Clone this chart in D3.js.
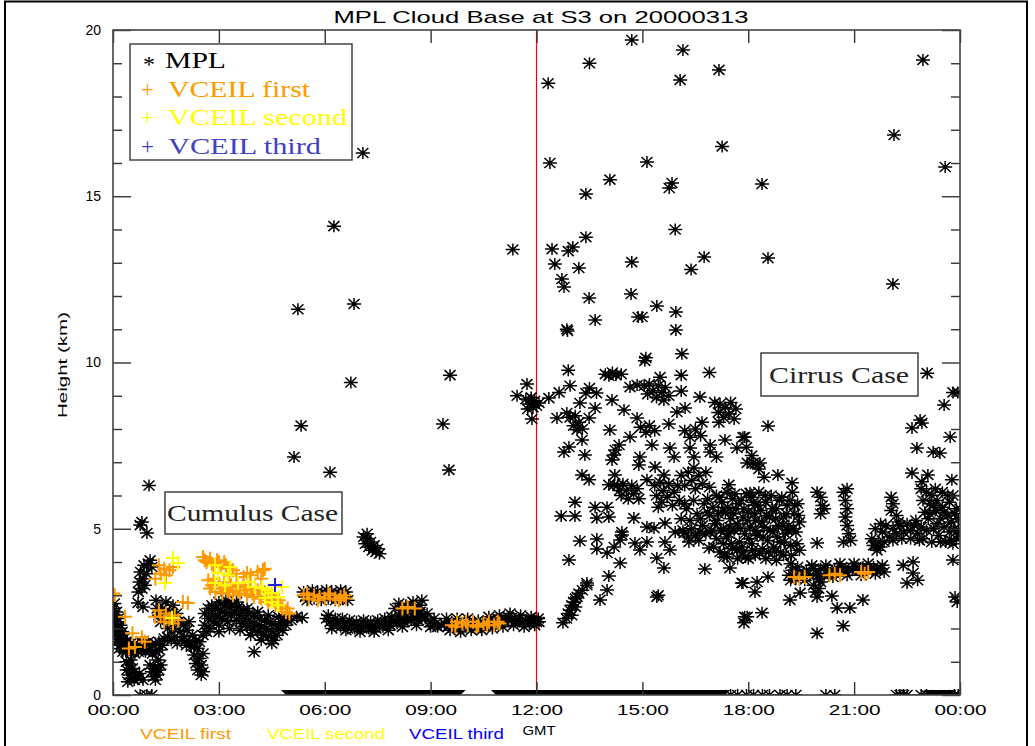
<!DOCTYPE html>
<html><head><meta charset="utf-8">
<script src="https://cdn.jsdelivr.net/npm/d3@7"></script>
<style>body{margin:0;background:#fff;} svg{display:block}</style>
</head><body><svg id="c" width="1035" height="746"></svg>
<script>
// ---------------- data ----------------
const title = "MPL Cloud Base at S3 on 20000313";
const xTickHours = [0,3,6,9,12,15,18,21,24];
const xTickLabels = ["00:00","03:00","06:00","09:00","12:00","15:00","18:00","21:00","00:00"];
const yMajorTicks = [0,5,10,15,20];
const yMinorTicks = [1,2,3,4,6,7,8,9,11,12,13,14,16,17,18,19];
const dividerHour = 12;
const seriesNames = ["MPL","VCEIL first","VCEIL second","VCEIL third"];
const seriesSymbols = ["*","+","+","+"];
const seriesColors = ["#000000","#ff9900","#ffff00","#4040c8"];
const bottomLabels = ["VCEIL first","VCEIL second","VCEIL third"];
const bottomColors = ["#ff9900","#ffff00","#0000ff"];
const caseLabels = ["Cumulus Case","Cirrus Case"];

// MPL cloud base [hour, km] - cumulus period
const mplCumulus = [
[0.00,2.6],[0.00,2.3],[0.00,2.0],[0.04,2.75],[0.05,2.4],[0.05,2.1],[0.06,1.8],[0.10,2.5],[0.10,2.2],[0.11,1.9],[0.12,1.6],
[0.15,2.3],[0.16,2.0],[0.17,1.7],[0.18,1.4],[0.21,2.1],[0.22,1.8],[0.23,1.5],[0.26,1.9],[0.27,1.6],[0.28,1.3],[0.31,1.7],
[0.32,1.4],[0.36,1.6],[0.37,1.3],
[0.40,1.6],[0.41,1.35],[0.50,1.55],[0.52,1.3],[0.60,1.5],[0.62,1.25],[0.70,1.55],[0.72,1.3],[0.80,1.6],[0.82,1.35],
[0.90,1.55],[0.92,1.3],[1.00,1.6],[1.02,1.35],[1.10,1.5],[1.12,1.25],[1.20,1.55],[1.22,1.3],[1.30,1.6],[1.32,1.35],[1.40,1.5],[1.45,1.7],
[0.38,1.0],[0.39,0.75],[0.45,0.9],[0.46,0.6],[0.50,1.05],[0.51,0.5],[0.55,0.8],[0.60,0.45],[0.61,0.7],[0.66,0.55],
[0.70,0.5],[0.75,0.65],[0.42,0.4],[0.85,0.45],
[1.05,0.9],[1.10,0.7],[1.15,0.55],[1.20,0.8],[1.25,0.6],[1.30,0.75],[1.35,0.9],[1.20,0.45],[1.28,1.05],
[0.72,3.1],[0.75,3.4],[0.78,3.7],[0.82,3.2],[0.85,3.5],[0.88,3.9],[0.90,3.3],[0.95,3.65],[1.00,3.95],[1.05,4.05],[1.10,3.85],
[0.71,2.77],[0.85,2.65],[0.77,5.11],[0.82,5.2],[0.96,4.87],[1.02,6.3],
[1.22,2.85],[1.25,2.6],[1.30,2.4],[1.35,2.2],[1.40,2.6],[1.45,2.35],[1.50,2.8],[1.55,2.0],[1.55,1.75],[1.60,2.5],[1.65,2.25],
[1.65,1.65],[1.70,2.7],[1.72,2.0],[1.75,1.75],[1.80,2.45],[1.82,1.55],[1.85,2.2],[1.90,1.9],[1.95,1.65],[2.00,2.1],[2.02,1.75],
[2.08,1.5],[2.10,1.95],[2.15,2.2],[2.18,1.6],[2.22,1.45],[2.25,1.8],[2.30,1.45],[2.35,1.65],[2.40,1.4],[2.45,1.6],
[2.30,1.2],[2.35,0.95],[2.40,0.75],[2.45,1.1],[2.50,0.6],[2.50,0.9],[2.55,1.25],[2.55,0.7],
[2.55,1.8],[2.60,2.1],[2.60,2.45],[2.65,1.9],[2.70,2.3],[2.70,2.6],
[2.75,2.0],[2.80,2.45],[2.85,2.2],[2.90,2.6],[2.95,2.35],[3.00,2.1],[3.05,2.55],[3.10,2.3],[3.15,2.7],[3.20,2.45],[3.25,2.2],
[3.30,2.65],[3.35,2.4],[3.40,2.75],[3.45,2.5],[3.50,2.25],[3.55,2.65],[3.60,2.4],[3.65,2.15],[3.70,2.55],[3.75,2.3],
[3.80,2.05],[3.85,2.45],[3.90,2.2],[3.95,1.95],[4.00,2.4],[4.05,2.1],[4.10,1.9],[4.15,2.3],[4.20,2.05],[4.25,1.8],[4.30,2.25],
[4.35,2.0],[4.40,1.75],[4.45,2.2],[4.50,1.9],[4.55,1.65],[4.60,2.1],[4.65,1.8],[4.70,2.0],[4.75,2.2],[4.80,1.95],[4.85,2.3],
[4.90,2.1],[4.95,2.25],[4.00,1.3],[5.05,2.25],[5.20,2.35],[5.36,2.32],
[2.80,2.7],[3.00,2.8],[3.20,2.85],[3.50,2.8],[3.80,2.6],[4.10,2.5],[4.40,2.4],[4.70,2.35],[3.00,1.9],[3.30,2.0],
[3.60,1.95],[3.90,1.8],[4.20,1.65],[4.50,1.55]
];
// MPL - low clouds 5.4 to 12 h
const mplMidday = [
[5.40,3.1],[5.50,2.85],[5.60,3.05],[5.70,2.9],[5.80,3.1],[5.90,2.85],[6.00,3.05],[6.10,2.9],[6.20,3.1],[6.30,2.85],
[6.40,3.05],[6.50,2.9],[6.60,3.1],[6.65,2.85],
[5.45,2.95],[5.65,3.15],[5.85,2.95],[6.05,3.15],[6.25,2.95],[6.45,3.15],[6.55,2.95],
[7.10,4.75],[7.15,4.55],[7.20,4.7],[7.25,4.45],[7.30,4.6],[7.35,4.35],[7.40,4.5],[7.45,4.3],[7.50,4.4],[7.55,4.25],[7.20,4.85],
[6.05,2.3],[6.15,2.2],[6.25,2.1],[6.35,2.2],[6.45,2.05],[6.55,2.15],[6.65,2.0],[6.75,2.1],[6.85,2.0],[6.95,2.1],[7.05,2.0],
[7.15,2.1],[7.25,2.0],[7.35,2.05],[7.45,2.0],[7.55,2.1],[7.65,2.05],[7.75,2.15],[7.85,2.1],[7.95,2.2],[8.05,2.15],[8.15,2.25],
[8.25,2.2],[8.35,2.3],[8.45,2.25],[8.55,2.3],[8.65,2.25],[8.75,2.35],[8.85,2.3],[9.00,2.2],[9.10,2.1],[9.20,2.05],[9.30,2.1],
[6.10,2.4],[6.30,2.3],[6.50,2.3],[6.70,2.25],[6.90,2.2],[7.10,2.25],[7.30,2.2],[7.50,2.25],[7.70,2.3],[7.90,2.35],
[8.10,2.4],[8.30,2.45],[8.50,2.45],[8.70,2.5],[8.90,2.45],[9.10,2.3],[6.20,2.0],[6.60,1.95],[7.00,1.9],[7.40,1.9],
[7.80,1.95],[8.20,2.05],[8.60,2.1],[9.00,2.05],
[8.00,2.6],[8.10,2.75],[8.20,2.55],[8.30,2.7],[8.40,2.6],[8.50,2.8],[8.60,2.55],[8.70,2.7],[8.75,2.85],
[9.40,2.15],[9.50,2.05],[9.60,2.2],[9.70,2.1],[9.80,2.0],[9.90,2.15],[10.00,2.05],[10.10,2.2],[10.20,2.1],[10.30,2.0],
[10.40,2.15],[10.50,2.1],[10.60,2.2],[10.70,2.1],[10.80,2.25],[10.90,2.15],[11.00,2.3],[11.10,2.2],[11.20,2.35],[11.30,2.25],
[11.40,2.2],[11.50,2.3],[11.60,2.2],[11.70,2.25],[11.80,2.15],[11.90,2.25],[12.00,2.2],[12.05,2.3],
[9.45,2.3],[9.75,2.3],[10.05,2.3],[10.35,2.25],[10.65,2.35],[10.95,2.4],[11.25,2.45],[11.55,2.4],[11.85,2.35],
[9.55,1.95],[9.85,1.9],[10.15,1.95],[10.45,1.95],[10.75,2.0],[11.05,2.05],[11.35,2.1],[11.65,2.05],[11.95,2.1]
];
// MPL - isolated high returns before noon
const mplHighMorning = [
[7.08,16.3],[6.26,14.1],[11.33,13.4],[5.24,11.6],[6.83,11.76],[6.74,9.4],[9.55,9.62],[5.33,8.1],[9.35,8.15],[5.13,7.16],
[6.15,6.7],[9.52,6.77],[11.45,9.0],[11.73,9.35],[11.70,8.9],[11.80,8.75],[11.85,8.95],[11.90,8.65],[11.95,8.85],[12.00,8.7],
[11.75,8.6],[11.87,8.3]
];
// MPL - cirrus period
const mplCirrus = [
[14.7,19.7],[16.15,19.4],[13.5,19.0],[12.33,18.4],[16.07,18.5],[17.17,18.8],[22.95,19.1],[22.13,16.84],[17.26,16.5],
[12.38,16.0],[15.13,16.03],[23.58,15.88],[14.08,15.5],[15.84,15.4],[15.76,15.25],[18.39,15.37],[13.4,15.07],[15.93,14.0],
[12.44,13.41],[12.9,13.35],[13.03,13.47],[13.4,13.77],[12.52,12.96],[13.2,12.84],[14.7,13.02],[16.75,13.17],[16.38,12.8],
[18.56,13.14],[12.72,12.51],[12.78,12.27],[22.1,12.36],[13.49,11.94],[14.68,12.06],[15.41,11.7],[15.95,11.52],[13.66,11.28],
[14.99,11.37],[14.88,11.37],[15.95,10.98],[12.86,11.0],[12.88,10.95],[16.12,10.26],[15.1,10.14],[15.07,10.05],
[12.9,9.77],[13.95,9.65],[14.05,9.6],[14.15,9.7],[14.25,9.62],[14.4,9.65],[16.1,9.62],[16.9,9.7],[15.5,9.56],
[15.05,9.3],[15.15,9.05],[15.2,9.35],[15.3,9.15],[15.4,8.95],[15.45,9.3],[15.55,9.1],[15.65,9.25],[15.75,9.0],
[12.95,9.3],[12.64,9.1],[12.35,8.93],[13.5,9.23],[13.7,9.08],[13.4,9.08],[14.65,9.26],[14.85,9.32],[16.1,9.14],[14.14,8.87],
[13.23,8.78],[16.63,8.96],[12.07,8.78],[13.66,8.63],[14.48,8.57],[15.61,8.87],[16.21,8.63],[15.98,8.51],
[17.05,8.8],[17.15,8.5],[17.2,8.75],[17.3,8.35],[17.35,8.65],[17.45,8.45],[17.5,8.8],[17.6,8.3],[17.65,8.6],
[12.86,8.48],[12.58,8.33],[12.95,8.35],[13.05,8.1],[13.1,8.4],[13.2,8.2],[13.3,8.0],[13.15,7.98],[13.49,8.33],[14.85,8.33],
[16.69,8.2],[17.17,8.2],[14.08,7.97],[14.95,8.05],[15.1,7.9],[15.2,8.1],[15.35,7.95],[15.75,8.15],
[16.2,7.95],[16.35,7.75],[16.5,8.0],[16.65,7.8],[17.9,7.76],[17.34,7.67],[16.92,7.52],[14.65,7.76],[14.34,7.52],[14.23,7.37],
[13.29,7.67],[12.92,7.46],[12.78,7.31],[13.37,7.22],[15.27,7.52],[15.78,7.43],[15.9,7.16],[14.93,7.16],[14.9,6.92],
[14.14,7.07],[14.2,7.22],[16.35,7.43],[16.46,7.16],[16.92,7.31],[17.1,7.16],[17.68,7.43],[17.97,6.98],[15.36,6.86],
[13.29,6.62],[13.49,6.47],[14.22,6.62],[14.05,6.32],[14.2,6.32],
[14.3,6.3],[14.4,6.0],[14.45,6.35],[14.55,6.15],[14.6,5.9],[14.7,6.3],[14.75,6.05],[14.85,6.2],[14.9,5.9],[14.35,6.15],
[15.13,6.47],[15.61,6.62],
[15.35,6.3],[15.4,6.0],[15.5,6.4],[15.55,5.8],[15.6,6.15],[15.7,5.95],[15.75,6.35],[15.85,5.7],[15.9,6.1],[16.0,6.3],
[16.05,5.85],[15.45,5.65],
[16.1,6.6],[16.2,6.3],[16.3,6.7],[16.4,6.45],[16.5,6.2],[16.6,6.6],[16.7,6.35],[16.8,6.7],[16.9,6.25],[16.46,6.83],
[17.45,6.32],[18.05,6.08],[18.19,5.71],
[17.85,7.75],[17.95,7.45],[18.1,7.2],[18.2,6.95],[18.3,6.8],[18.45,6.55],[18.14,6.98],[18.33,6.98],[18.84,6.62],[19.24,6.38],
[18.56,8.09],
[16.1,5.3],[16.25,5.6],[16.4,5.0],[16.55,5.45],[16.7,5.1],[16.3,4.75],[16.6,4.65],[16.75,5.75],[16.45,5.85],
[16.15,4.95],[16.2,5.75],[16.35,5.25],[16.5,4.8],[16.65,5.3],[16.8,4.85],[16.85,5.5],
[16.85,5.9],[16.9,5.4],[16.95,4.95],[17.0,5.65],[17.05,5.15],[17.1,4.7],[17.1,6.0],[17.15,5.45],[17.2,4.3],[17.25,5.8],
[17.3,5.0],[17.3,4.55],[17.35,5.5],[17.4,6.1],[17.4,4.15],[17.45,4.85],[17.5,5.3],[17.55,5.9],[17.55,4.4],[17.6,4.95],
[17.65,5.6],[17.7,4.1],[17.7,5.15],[17.75,4.6],[17.8,5.85],[17.85,5.35],[17.85,4.3],[17.9,4.85],[17.95,6.05],[18.0,5.5],
[18.0,4.1],[18.05,5.05],[18.1,4.55],[18.15,5.8],[18.2,5.25],[18.2,4.2],[18.25,4.8],[18.3,6.1],[18.35,5.55],[18.4,4.4],
[18.45,5.05],[18.5,5.8],[18.5,4.1],[18.55,4.65],[18.6,5.35],[18.65,6.0],[18.7,4.9],[18.75,4.3],[18.8,5.6],[18.85,5.1],
[18.9,4.6],[18.95,5.95],[19.0,5.35],[19.0,4.2],[19.05,4.85],[19.1,5.7],[19.15,5.1],[19.2,4.5],[19.25,6.1],[19.3,5.45],
[19.35,4.9],[19.4,5.75],[19.45,5.2],[19.45,4.35],[19.2,3.95],[18.8,4.05],
[17.02,4.45],[17.12,5.25],[17.18,5.95],[17.22,4.95],[17.28,5.55],[17.33,4.25],[17.38,4.75],[17.42,5.65],[17.48,5.05],
[17.52,4.55],[17.58,5.45],[17.62,6.05],[17.68,4.35],[17.72,5.75],[17.78,5.0],[17.82,4.45],[17.88,5.6],[17.92,4.15],
[17.98,5.25],[18.02,4.7],[18.08,5.95],[18.12,4.35],[18.18,5.45],[18.22,4.95],[18.28,5.7],[18.32,4.25],[18.38,5.2],
[18.42,4.75],[18.48,6.0],[18.52,5.4],[18.58,4.3],[18.62,4.95],[18.68,5.6],[18.72,4.45],[18.78,5.3],[18.82,4.75],
[18.88,5.85],[18.92,4.3],[18.98,5.1],[19.02,4.6],[19.08,5.45],[19.12,4.95],[19.18,5.85],[19.22,4.2],[19.28,5.0],
[19.32,5.7],[19.38,4.55],[19.42,5.4],
[13.09,5.8],[12.7,5.38],[13.09,5.38],[13.66,5.65],[13.71,5.32],[14.05,5.35],[14.0,5.65],[14.76,5.32],[14.42,4.9],
[15.13,5.05],[15.33,5.02],[15.64,5.17],[15.93,4.9],[16.18,4.87],[16.63,4.9],[16.92,4.9],[13.23,4.63],[13.71,4.69],
[13.71,4.39],[14.0,4.27],[14.2,4.45],[14.42,4.81],[14.37,4.66],[14.79,4.57],[14.93,4.36],[15.13,4.6],[15.41,4.12],
[15.61,3.82],[15.78,4.36],[15.64,4.6],[16.32,4.6],[16.89,4.42],[16.77,3.79],[17.31,4.15],[17.48,3.82],[12.92,4.06],
[14.37,3.97],[14.05,3.58],[14.0,3.16],[13.43,3.3],[13.8,2.86],[15.41,2.95],[15.45,3.0],[17.82,3.37],[17.9,2.35],[17.88,2.17],
[12.07,2.2],[12.75,2.17],[12.85,2.3],[12.9,2.45],[12.95,2.55],[13.0,2.7],[13.05,2.8],[13.1,2.9],[13.15,2.95],[13.2,3.05],
[13.3,3.15],[13.43,3.37],[13.0,2.4],[13.1,2.65],
[23.8,9.1],[23.94,9.1],[23.07,9.68],[23.55,8.72],[22.87,8.27],[22.64,8.03],[22.92,8.18],[23.72,7.76],[22.78,7.43],
[23.24,7.31],[23.43,7.28],[22.64,6.68],[23.09,6.62],[22.92,6.41],[23.77,6.47],
[22.9,6.2],[22.95,5.85],[23.0,5.5],[23.05,6.1],[23.1,5.3],[23.15,5.75],[23.2,6.0],[23.25,5.0],[23.3,5.55],[23.35,5.85],
[23.4,4.8],[23.45,5.3],[23.5,5.65],[23.55,5.05],[23.6,4.6],[23.65,5.4],[23.7,4.9],[23.75,5.2],[23.8,4.55],[23.85,5.0],
[23.9,4.7],[23.95,5.3],[24.0,4.85],[23.3,6.2],[23.5,6.1],[23.7,5.8],[23.9,5.6],[23.8,6.0],
[22.95,4.7],[23.05,4.95],[23.15,5.45],[23.25,5.7],[23.35,5.15],[23.45,4.6],[23.55,5.5],[23.65,6.0],[23.75,4.65],
[23.85,5.45],[23.95,4.95],[24.0,5.6],[23.2,4.6],
[21.5,4.7],[21.6,5.0],[21.7,4.6],[21.8,4.9],[21.9,5.1],[22.0,4.75],[22.1,5.0],[22.2,4.85],[22.3,5.1],[22.4,4.9],[22.5,5.15],
[22.6,4.95],[22.7,5.1],[22.8,4.85],[22.9,5.05],[21.55,4.5],[21.65,4.35],[21.75,4.45],
[21.6,4.5],[21.85,4.6],[22.1,4.65],[22.35,4.7],[22.6,4.7],[22.85,4.65],[21.75,5.15],[22.25,5.2],[22.75,5.25],
[22.05,5.95],[22.1,5.75],[22.05,5.55],[22.2,5.4],
[20.7,6.1],[20.75,5.85],[20.8,5.6],[20.75,5.35],[20.8,5.1],[20.85,4.85],[20.9,4.65],[20.7,4.6],[20.8,6.2],
[19.95,6.1],[20.05,5.95],[20.1,5.7],[20.05,5.45],[20.15,5.6],[19.95,4.57],
[19.15,3.6],[19.25,3.75],[19.35,3.5],[19.45,3.7],[19.55,3.55],[19.65,3.75],[19.75,3.6],[19.85,3.8],[19.95,3.65],[20.05,3.8],
[20.15,3.6],[20.25,3.75],[20.35,3.65],[20.45,3.8],[20.55,3.7],[20.65,3.85],[20.75,3.7],[20.85,3.8],[20.95,3.75],[21.05,3.85],
[21.15,3.75],[21.25,3.85],[21.35,3.75],[21.45,3.8],[21.55,3.85],[21.65,3.75],[21.75,3.8],[21.85,3.7],
[19.2,3.45],[19.4,3.85],[19.6,3.45],[19.8,3.9],[20.0,3.5],[20.2,3.9],[20.4,3.55],[20.6,3.95],[20.8,3.6],[21.0,3.95],
[21.2,3.6],[21.4,3.95],[21.6,3.65],[21.8,3.9],
[19.85,3.3],[19.9,3.1],[19.95,2.95],[20.0,3.2],[20.05,3.4],
[19.18,2.86],[19.47,3.07],[20.37,2.98],[21.25,2.86],[20.52,2.62],[20.88,2.62],[19.95,1.86],[20.69,2.08],
[18.56,3.55],[18.25,3.4],[18.19,3.1],[17.85,3.37],[17.97,2.35],[18.39,2.47],
[23.86,2.95],[23.92,2.8],[22.39,3.9],[22.67,4.0],[22.67,3.67],[22.5,3.37],[23.8,4.06],[22.8,3.45]
];
// MPL heights reported as 0 km (isolated times)
const mplZero = [
[0.77,0],[0.96,0],[1.10,0],[17.50,0],[17.70,0],[17.95,0],[18.15,0],[18.40,0],[18.60,0],[18.90,0],[19.10,0],[19.35,0],
[20.20,0],[20.45,0],[22.20,0],[22.30,0],[22.40,0],[22.50,0],[22.90,0],[23.05,0],[23.85,0],[23.95,0]
];
// MPL continuous stretches at 0 km [start hour, end hour]
const mplZeroRuns = [[4.9,9.85],[10.85,17.35],[23.1,23.75]];

// VCEIL first cloud base
const vceilFirst = [
[0.0,3.05],[0.05,3.0],[0.34,2.35],[0.55,1.86],[0.82,1.74],[0.62,1.44],[0.9,1.6],[0.45,1.4],
[1.2,3.5],[1.3,3.9],[1.35,3.65],[1.45,3.8],[1.5,3.6],[1.6,3.75],[1.7,3.85],
[1.19,2.35],[1.35,2.35],[1.45,2.2],[1.5,2.45],[1.6,2.3],[1.7,2.15],[1.75,2.4],[1.85,2.25],[1.3,2.55],
[1.98,2.8],[2.12,2.77],
[2.55,4.15],[2.65,4.0],[2.75,4.1],[2.85,3.9],[2.95,4.05],[3.05,3.85],[3.15,4.0],[3.25,3.8],[3.4,3.75],
[2.6,4.05],[2.8,3.95],[3.0,4.0],[3.2,3.9],
[2.7,3.45],[2.75,3.2],[2.85,3.5],[2.9,3.1],[3.0,3.35],[3.1,3.05],[3.15,3.4],[3.25,3.15],[3.35,3.3],[3.4,3.0],[3.5,3.25],
[3.6,3.05],[3.7,3.3],[3.8,3.0],[3.9,3.2],[4.0,2.95],[4.1,3.15],[4.2,2.9],[4.3,3.1],[4.4,2.8],[4.5,3.0],[4.6,2.7],[4.7,2.85],
[4.8,2.6],[4.9,2.5],[5.0,2.45],[3.3,3.6],[3.5,3.65],[3.7,3.55],[3.9,3.6],[4.1,3.7],[4.3,3.8],[4.2,3.5],[3.8,3.67],[4.25,3.76],
[2.8,3.3],[3.05,3.2],[3.3,3.1],[3.55,3.15],[3.75,3.15],[3.95,3.05],[4.15,2.95],[4.35,2.9],[4.55,2.85],[4.75,2.7],[4.95,2.6],
[5.4,3.0],[5.55,2.9],[5.7,3.0],[5.85,2.95],[6.0,2.9],[6.15,3.0],[6.3,2.9],[6.45,2.95],[6.6,2.9],
[5.5,3.05],[5.8,2.85],[6.1,3.05],[6.4,2.85],[6.55,3.0],
[8.2,2.6],[8.35,2.65],[8.55,2.6],
[9.6,2.1],[9.75,2.2],[9.9,2.15],[10.05,2.1],[10.2,2.2],[10.35,2.1],[10.5,2.15],[10.65,2.2],[10.8,2.1],[10.95,2.15],
[9.7,2.05],[10.0,2.2],[10.3,2.05],[10.6,2.1],[10.9,2.2],
[19.3,3.55],[19.45,3.5],[19.6,3.55],[20.3,3.6],[20.45,3.65],[20.6,3.6],[21.2,3.7],[21.3,3.65],[21.4,3.7]
];
// VCEIL second cloud base
const vceilSecond = [
[1.7,4.12],[1.84,3.97],[1.47,3.37],[1.67,2.32],
[2.89,3.9],[2.98,3.67],[3.32,3.85],[3.26,3.6],[2.89,3.37],[3.17,3.3],[3.54,3.37],[3.83,3.4],[4.02,3.25],[4.22,3.22],
[4.4,3.16],[4.5,3.07],[4.79,3.25],[4.68,2.95],[4.31,2.92],[4.5,2.8],[4.68,2.7]
];
// VCEIL third cloud base
const vceilThird = [[4.59,3.31]];

// ---------------- drawing ----------------
const svg = d3.select("#c");
const W = 1035, H = 746;
const plot = {left:113, right:960, top:30, bottom:695};
const x = d3.scaleLinear().domain([0,24]).range([plot.left, plot.right]);
const y = d3.scaleLinear().domain([0,20]).range([plot.bottom, plot.top]);

svg.append("rect").attr("x",0).attr("y",0).attr("width",W).attr("height",H).attr("fill","#fff");
svg.append("path").attr("d",`M5,${H+2}V1.5H1027V${H+2}`).attr("fill","none").attr("stroke","#000").attr("stroke-width",2);

svg.append("defs").append("clipPath").attr("id","pc").append("rect")
  .attr("x",plot.left).attr("y",plot.top).attr("width",plot.right-plot.left).attr("height",plot.bottom-plot.top);

const sansFont = "Liberation Sans, Arial, sans-serif";
const serifFont = "Liberation Serif, Times New Roman, serif";

svg.append("text").attr("x",541).attr("y",23).attr("text-anchor","middle")
  .attr("font-family",sansFont).attr("font-size",17).attr("textLength",415).attr("lengthAdjust","spacingAndGlyphs")
  .text(title);

svg.append("line").attr("x1",x(dividerHour)).attr("x2",x(dividerHour)).attr("y1",plot.top).attr("y2",plot.bottom)
  .attr("stroke","#ff0000").attr("stroke-width",1.2);

const pts = svg.append("g").attr("clip-path","url(#pc)");
const star = "M-7,0H7M0,-6V6M-5.5,-5L5.5,5M-5.5,5L5.5,-5";
const cross = "M-7,0H7M0,-7V7";
const mplAll = mplCumulus.concat(mplMidday, mplHighMorning, mplCirrus, mplZero);
pts.selectAll("path.mpl").data(mplAll).join("path").attr("class","mpl")
  .attr("transform",d=>`translate(${x(d[0])},${y(d[1])})`).attr("d",star)
  .attr("stroke","#000").attr("stroke-width",1.5).attr("fill","none");
pts.selectAll("path.zr").data(mplZeroRuns).join("path").attr("class","zr")
  .attr("d",d=>`M${x(d[0])-5},${y(0)-5}L${x(d[1])+5},${y(0)-5}L${x(d[1])},${y(0)}L${x(d[0])},${y(0)}Z`)
  .attr("fill","#000");

function crosses(data, color, cls){
  pts.selectAll("path."+cls).data(data).join("path").attr("class",cls)
    .attr("transform",d=>`translate(${x(d[0])},${y(d[1])})`).attr("d",cross)
    .attr("stroke",color).attr("stroke-width",2).attr("fill","none");
}
crosses(vceilFirst, seriesColors[1], "v1");
crosses(vceilSecond, seriesColors[2], "v2");
crosses(vceilThird, "#2020e0", "v3");

const tickColor = "#333";
function styleAxis(g){
  g.select(".domain").remove();
  g.selectAll(".tick line").attr("stroke",tickColor).attr("stroke-width",1.4);
  g.selectAll("text").attr("font-family",sansFont).attr("font-size",14).attr("fill","#000");
}
svg.append("g").attr("transform",`translate(0,${plot.bottom})`)
  .call(d3.axisBottom(x).tickValues(xTickHours).tickFormat((d,i)=>xTickLabels[i]).tickSizeInner(-13).tickSizeOuter(0).tickPadding(10))
  .call(styleAxis)
  .call(g=>g.selectAll("text").attr("textLength",52).attr("lengthAdjust","spacingAndGlyphs"));
svg.append("g").attr("transform",`translate(0,${plot.top})`)
  .call(d3.axisTop(x).tickValues(xTickHours).tickFormat("").tickSizeInner(-13).tickSizeOuter(0)).call(styleAxis);
svg.append("g").attr("transform",`translate(${plot.left},0)`)
  .call(d3.axisLeft(y).tickValues(yMajorTicks).tickSizeInner(-18).tickSizeOuter(0).tickPadding(12)).call(styleAxis);
svg.append("g").attr("transform",`translate(${plot.left},0)`)
  .call(d3.axisLeft(y).tickValues(yMinorTicks).tickFormat("").tickSizeInner(-9).tickSizeOuter(0)).call(styleAxis);
svg.append("g").attr("transform",`translate(${plot.right},0)`)
  .call(d3.axisRight(y).tickValues(yMajorTicks).tickFormat("").tickSizeInner(-18).tickSizeOuter(0)).call(styleAxis);
svg.append("g").attr("transform",`translate(${plot.right},0)`)
  .call(d3.axisRight(y).tickValues(yMinorTicks).tickFormat("").tickSizeInner(-9).tickSizeOuter(0)).call(styleAxis);

svg.append("rect").attr("x",plot.left).attr("y",plot.top).attr("width",plot.right-plot.left).attr("height",plot.bottom-plot.top)
  .attr("fill","none").attr("stroke","#444").attr("stroke-width",1.6);

svg.append("text").attr("transform","translate(67,365) rotate(-90)").attr("text-anchor","middle")
  .attr("font-family",sansFont).attr("font-size",13).attr("textLength",106).attr("lengthAdjust","spacingAndGlyphs")
  .text("Height (km)");
svg.append("text").attr("x",539).attr("y",735).attr("text-anchor","middle")
  .attr("font-family",sansFont).attr("font-size",13).attr("textLength",33).attr("lengthAdjust","spacingAndGlyphs")
  .text("GMT");

const bottomX = [140,267,409], bottomW = [91,118,95];
bottomLabels.forEach((t,i)=>{
  svg.append("text").attr("x",bottomX[i]).attr("y",739).attr("font-family",sansFont).attr("font-size",14)
    .attr("fill",bottomColors[i]).attr("textLength",bottomW[i]).attr("lengthAdjust","spacingAndGlyphs").text(t);
});

svg.append("rect").attr("x",130).attr("y",44).attr("width",222).attr("height",116)
  .attr("fill","#fff").attr("stroke","#444").attr("stroke-width",1.5);
const legW = [61,142,179,153];
seriesNames.forEach((n,i)=>{
  const by = 68 + i*28.5;
  svg.append("text").attr("x",seriesSymbols[i]==="*"?143:141).attr("y",by+(seriesSymbols[i]==="*"?4:0))
    .attr("font-family",serifFont).attr("font-size",seriesSymbols[i]==="*"?24:23).attr("fill",seriesColors[i]).text(seriesSymbols[i]);
  svg.append("text").attr("x",i===0?165:168).attr("y",by).attr("font-family",serifFont).attr("font-size",23)
    .attr("fill",seriesColors[i]).attr("textLength",legW[i]).attr("lengthAdjust","spacingAndGlyphs").text(n);
});

const caseBoxes = [{x:165,y:492,w:177,h:42,tx:167,tw:171,by:521},{x:761,y:353,w:157,h:43,tx:769,tw:140,by:383}];
caseLabels.forEach((t,i)=>{
  const b = caseBoxes[i];
  svg.append("rect").attr("x",b.x).attr("y",b.y).attr("width",b.w).attr("height",b.h)
    .attr("fill","#fff").attr("stroke","#333").attr("stroke-width",1.4);
  svg.append("text").attr("x",b.tx).attr("y",b.by).attr("font-family",serifFont).attr("font-size",24)
    .attr("fill","#222").attr("textLength",b.tw).attr("lengthAdjust","spacingAndGlyphs").text(t);
});
</script></body></html>
